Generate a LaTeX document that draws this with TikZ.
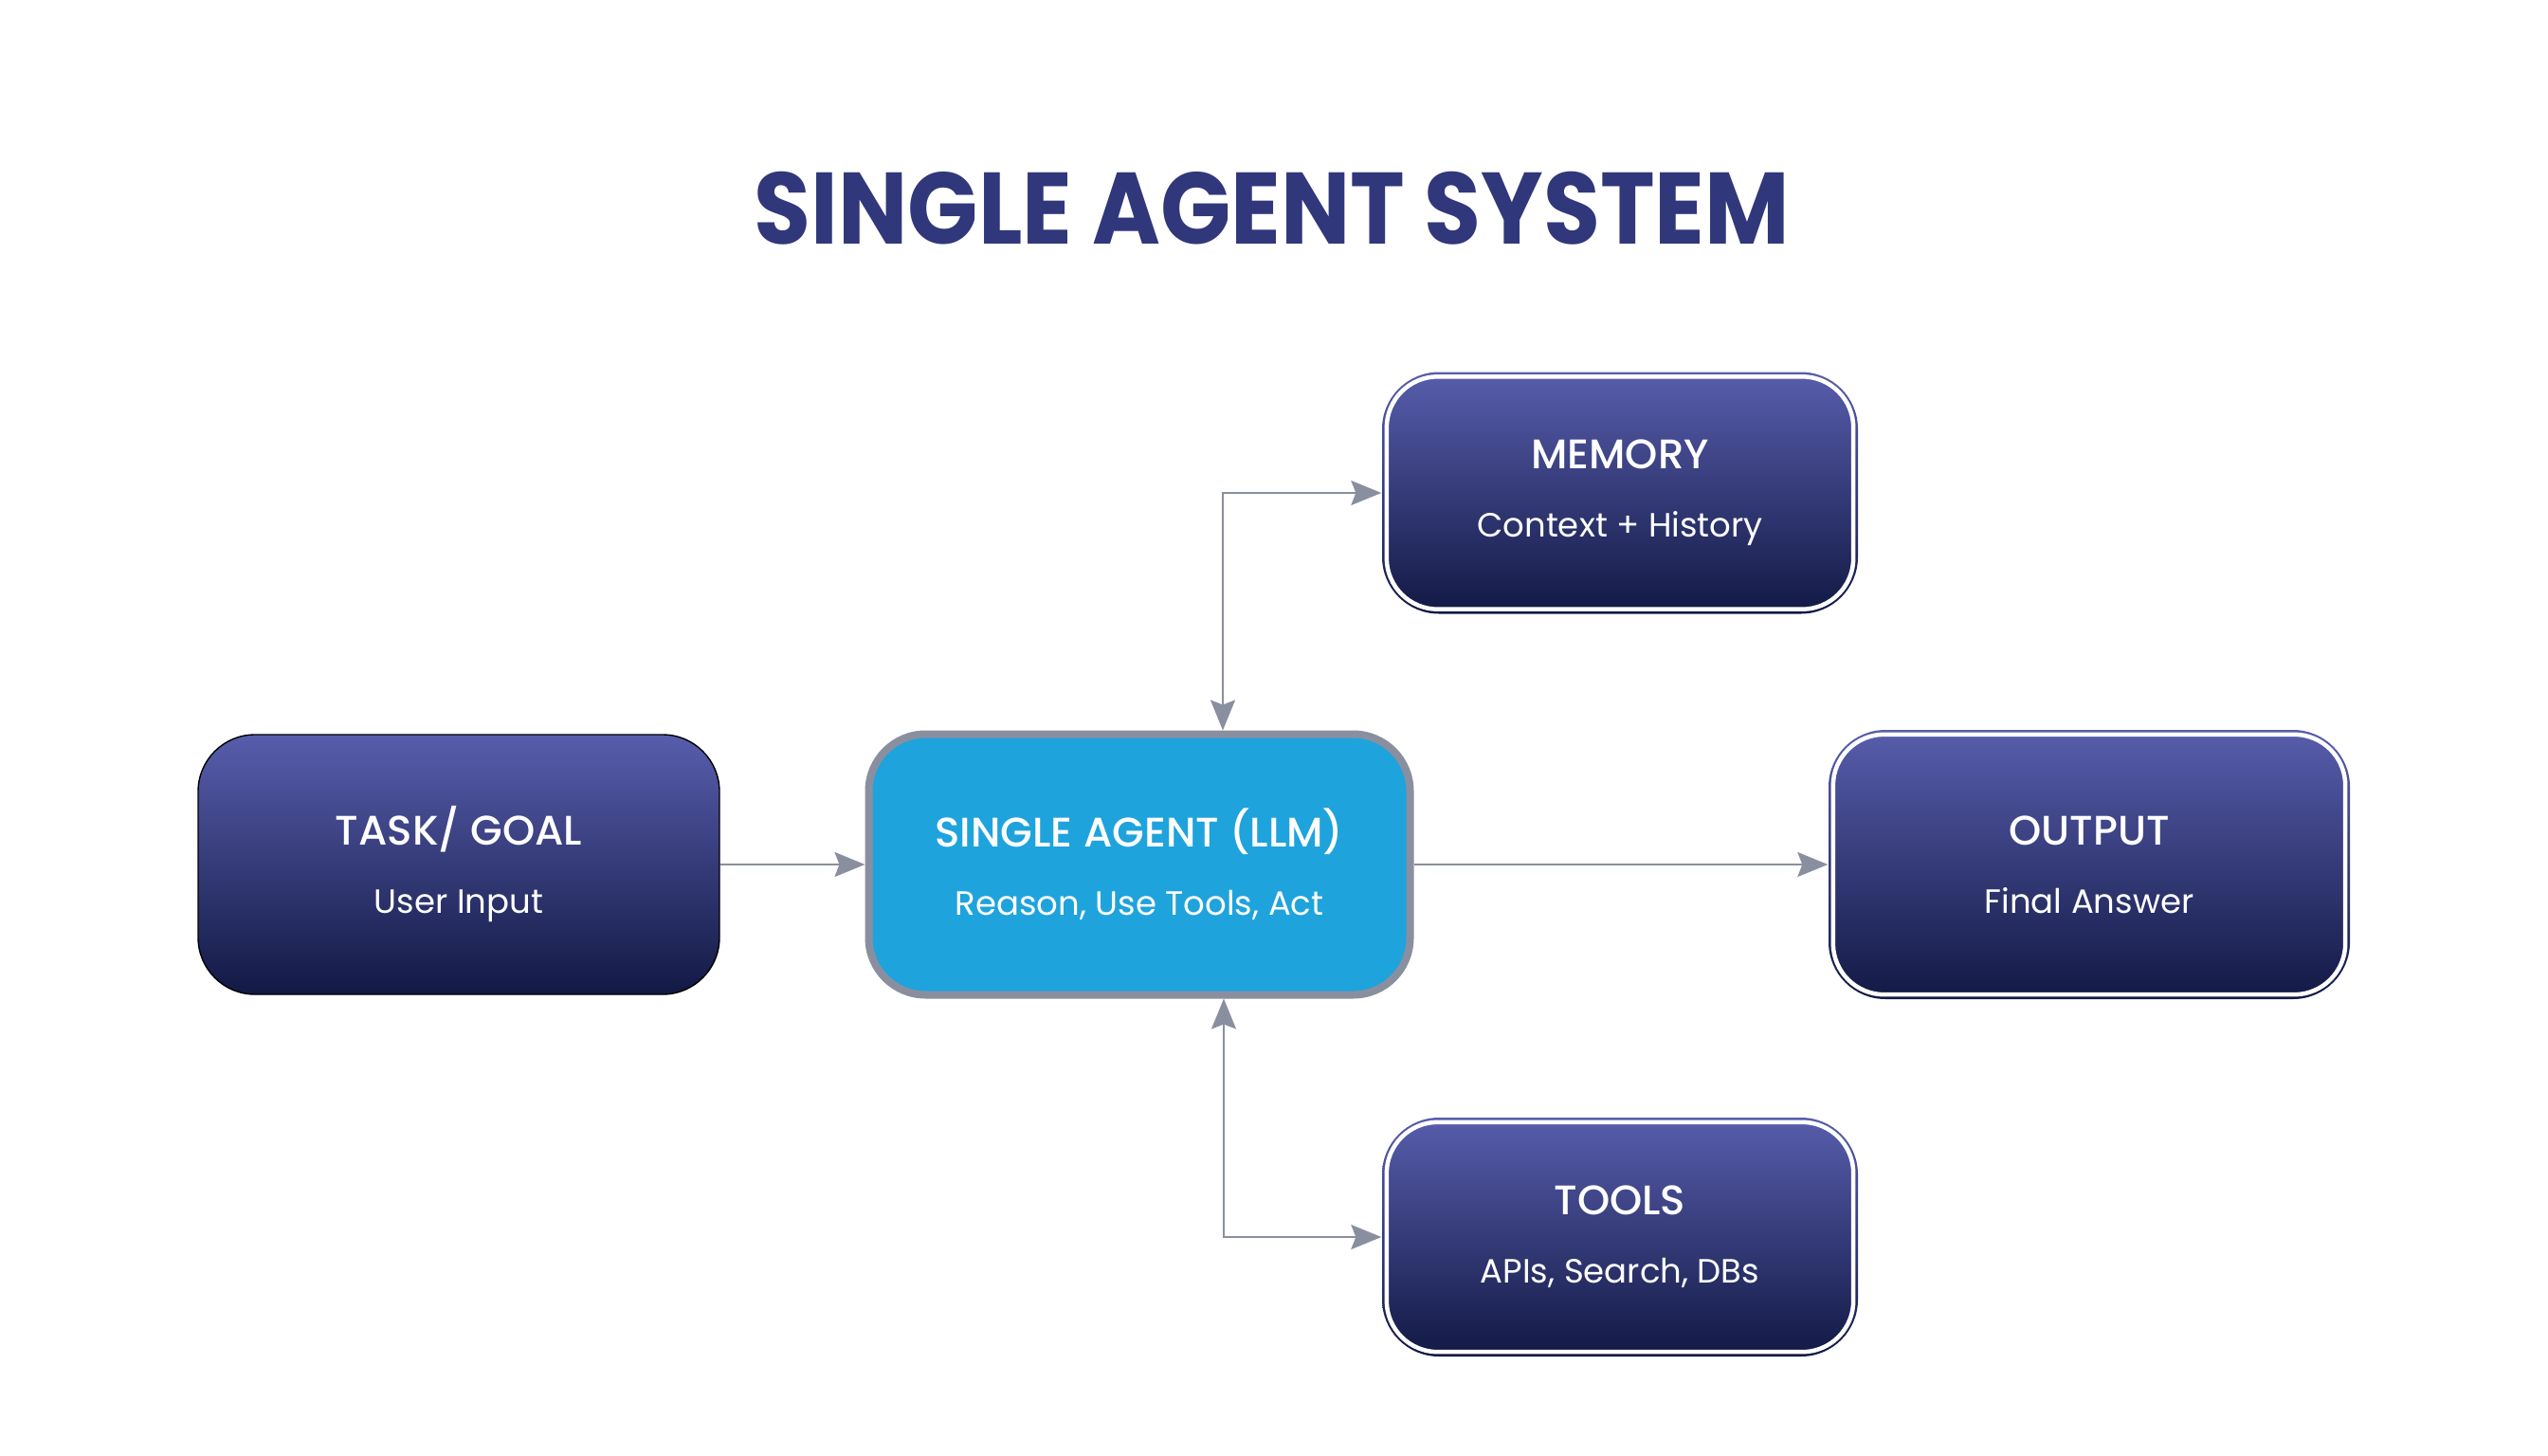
\documentclass[tikz,border=0pt]{standalone}
\usepackage{fontspec}
\setmainfont{Poppins}
\newfontfamily\medfont{Poppins Medium}
\usetikzlibrary{calc,arrows.meta}
\definecolor{navytop}{RGB}{88,93,172}
\definecolor{navybot}{RGB}{18,25,68}
\definecolor{agentblue}{RGB}{31,163,220}
\definecolor{edgegray}{RGB}{138,143,160}
\definecolor{titleblue}{RGB}{48,55,122}
\newcommand{\hd}[1]{{\medfont\fontsize{12.4}{20.5}\selectfont #1}}

\begin{document}
\begin{tikzpicture}[
  darkbox/.style={rounded corners=0.6cm,inner sep=0pt,align=center,text=white,
    top color=navytop,bottom color=navybot,font=\fontsize{10.1}{20.5}\selectfont},
  agentbox/.style={rounded corners=0.6cm,inner sep=0pt,align=center,text=white,
    fill=agentblue,draw=edgegray,line width=0.08cm,font=\fontsize{10.1}{20.5}\selectfont},
  tip/.tip={Stealth[length=0.32cm,width=0.26cm,inset=0.05cm]},
  link/.style={draw=edgegray,line width=0.02cm,-tip},
  twoway/.style={draw=edgegray,line width=0.02cm,tip-tip}
]
\fill[white] (0,0) rectangle (26.88,-15.36);
\useasboundingbox (0,0) rectangle (26.88,-15.36);

\node[text=titleblue,font=\bfseries\fontsize{30.5}{36}\selectfont] (title) at (13.42,-2.2)
  {\scalebox{0.91}[1]{SINGLE AGENT SYSTEM}};

\node[darkbox,draw=black,line width=0.4pt,minimum width=5.5cm,minimum height=2.74cm] (task) at (4.84,-9.12)
  {\hd{TASK/ GOAL}\\User Input};
\node[agentbox,minimum width=5.71cm,minimum height=2.75cm] (agent) at (12.02,-9.12)
  {\hd{SINGLE AGENT (LLM)}\\Reason, Use Tools, Act};
\node[darkbox,minimum width=5.02cm,minimum height=2.55cm] (memory) at (17.09,-5.2)
  {\hd{MEMORY}\\Context + History};
\node[darkbox,minimum width=5.5cm,minimum height=2.84cm] (output) at (22.04,-9.12)
  {\hd{OUTPUT}\\Final Answer};
\node[darkbox,minimum width=5.02cm,minimum height=2.52cm] (tools) at (17.09,-13.05)
  {\hd{TOOLS}\\APIs, Search, DBs};

\foreach \b in {memory,output,tools}{
  \draw[white,line width=0.045cm,rounded corners=0.54cm]
    ([shift={(0.055,-0.055)}]\b.north west) rectangle ([shift={(-0.055,0.055)}]\b.south east);
}

\draw[link] (task.east) -- (agent.west);
\draw[link] (agent.east) -- (output.west);
\draw[twoway] ([xshift=0.88cm]agent.north) |- (memory.west);
\draw[twoway] ([xshift=0.89cm]agent.south) |- (tools.west);
\end{tikzpicture}
\end{document}
